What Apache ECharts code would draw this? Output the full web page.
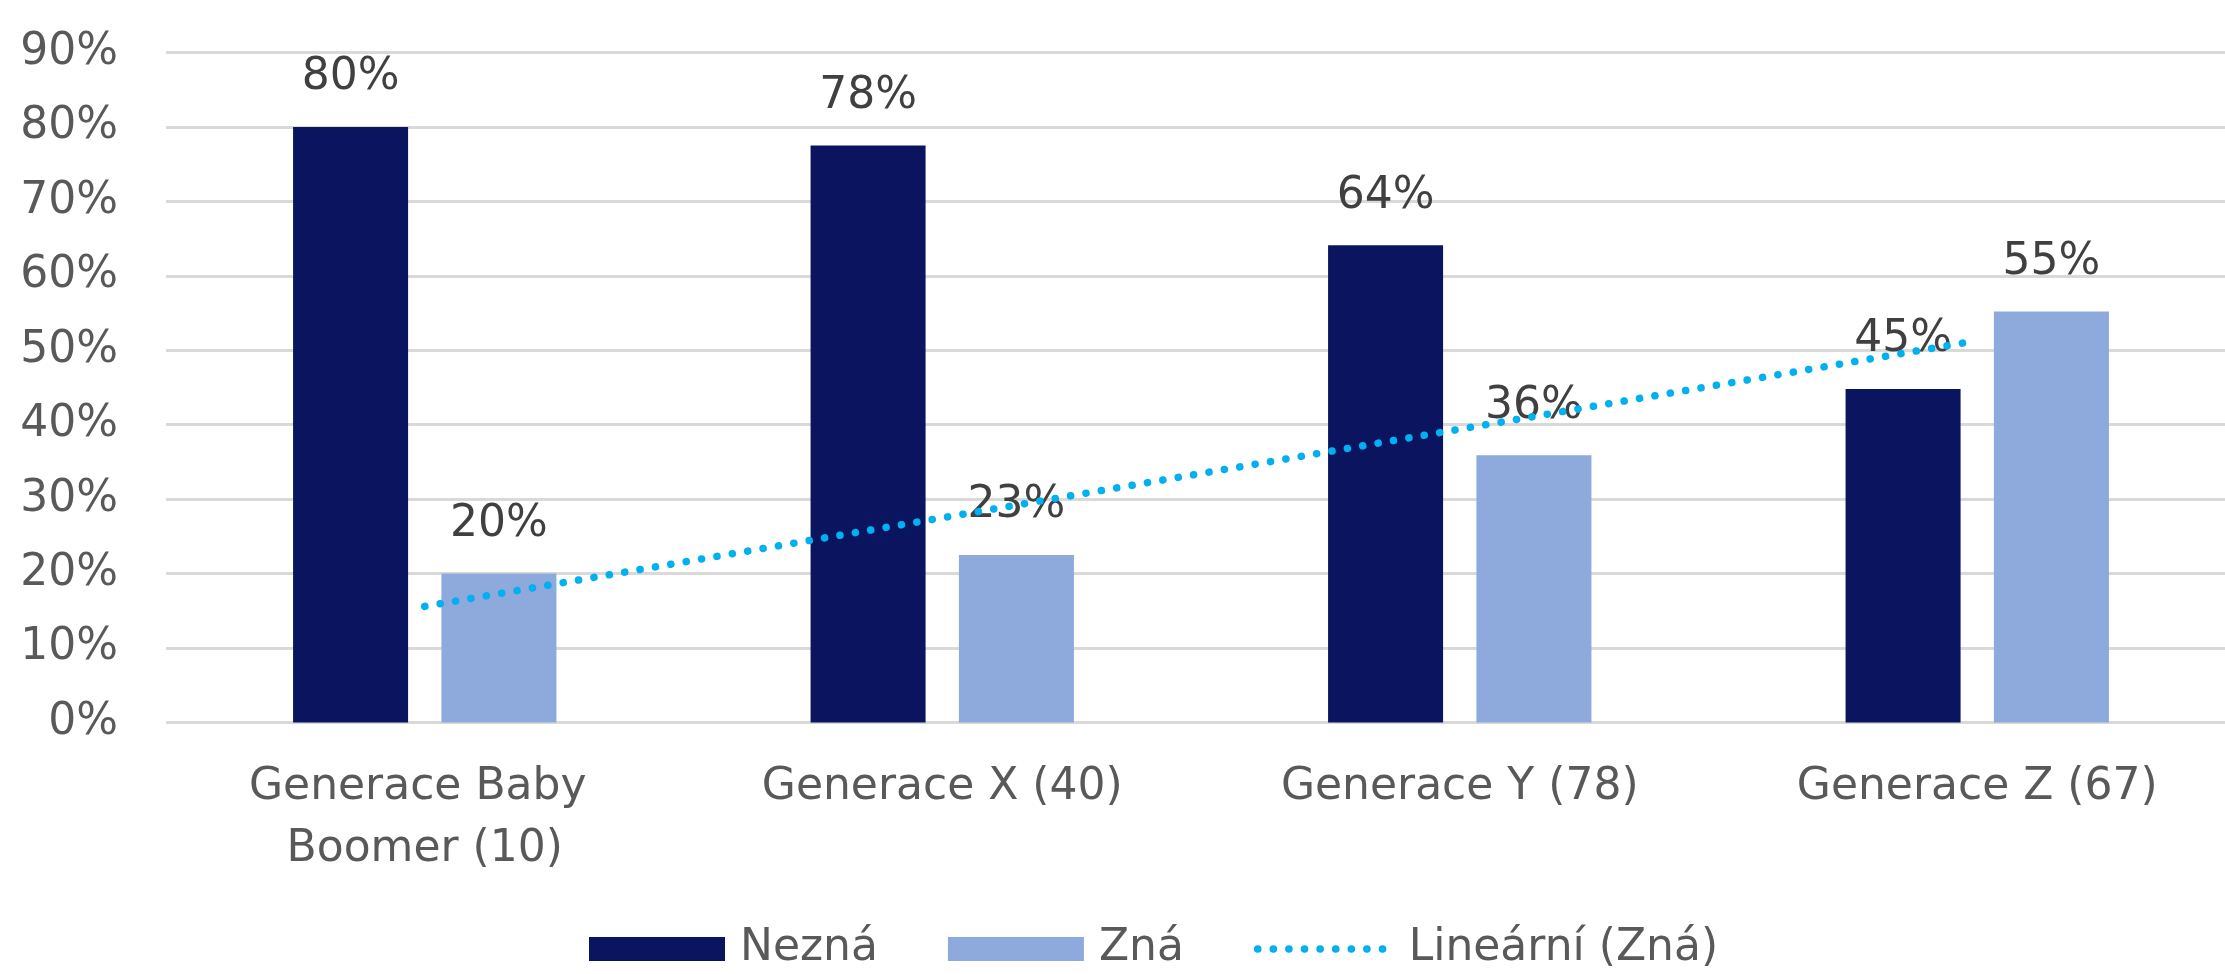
<!DOCTYPE html>
<html>
<head>
<meta charset="utf-8">
<script src="https://cdn.jsdelivr.net/npm/echarts@6/dist/echarts.min.js"></script>
<style>
html,body{margin:0;padding:0;background:#fff;}
#chart{width:2225px;height:974px;}
</style>
</head>
<body>
<div id="chart"></div>
<script>
const categories = ['Generace Baby Boomer (10)', 'Generace X (40)', 'Generace Y (78)', 'Generace Z (67)'];
const nezna = [80, 77.5, 64.1, 44.8];
const zna = [20, 22.5, 35.9, 55.2];
const trendZna = [15.6, 27.5, 39.4, 51.3];
const seriesNames = ['Nezná', 'Zná', 'Lineární (Zná)'];
const yTicks = [0, 10, 20, 30, 40, 50, 60, 70, 80, 90];

const FONT = 'DejaVu Sans';
const FS = 44;
const TREND_COLOR = '#00b0f0';
const trendLine = { color: TREND_COLOR, width: 7.5, type: [0.1, 15.5], cap: 'round' };
const chart = echarts.init(document.getElementById('chart'));
const labelFmt = p => Math.round(p.value) + '%';
chart.setOption({
  animation: false,
  backgroundColor: '#ffffff',
  textStyle: { fontFamily: FONT },
  grid: { left: 166, width: 2070, top: 52.5, bottom: 251.5, containLabel: false, outerBoundsMode: 'none' },
  legend: {
    left: 584, top: 922,
    itemWidth: 136, itemHeight: 24, itemGap: 70,
    textStyle: { fontFamily: FONT, fontSize: FS, color: '#595959', padding: [0, 0, 0, 10] },
    data: [
      { name: seriesNames[0], icon: 'rect' },
      { name: seriesNames[1], icon: 'rect' },
      { name: seriesNames[2], itemStyle: { opacity: 0 }, lineStyle: trendLine }
    ]
  },
  xAxis: {
    type: 'category',
    data: categories,
    axisLine: { show: false },
    axisTick: { show: false },
    axisLabel: {
      fontFamily: FONT, fontSize: FS, color: '#595959', margin: 34,
      lineHeight: 62, width: 420, overflow: 'break', interval: 0
    }
  },
  yAxis: {
    type: 'value',
    min: yTicks[0], max: yTicks[yTicks.length - 1], interval: 10,
    axisLine: { show: false },
    axisTick: { show: false },
    splitLine: { lineStyle: { color: '#d9d9d9', width: 3 } },
    axisLabel: { fontFamily: FONT, fontSize: FS, color: '#595959', margin: 48, formatter: '{value}%' }
  },
  series: [
    {
      name: seriesNames[0], type: 'bar', data: nezna,
      barWidth: 115, barGap: '29%',
      itemStyle: { color: '#0a145f' },
      label: { show: true, position: 'top', distance: 27, fontFamily: FONT, fontSize: FS, color: '#404040', formatter: labelFmt }
    },
    {
      name: seriesNames[1], type: 'bar', data: zna,
      barWidth: 115, barGap: '29%',
      itemStyle: { color: '#8ea9db' },
      label: { show: true, position: 'top', distance: 27, fontFamily: FONT, fontSize: FS, color: '#404040', formatter: labelFmt }
    },
    {
      name: seriesNames[2], type: 'line', data: trendZna,
      symbol: 'none', showSymbol: false, z: 5,
      itemStyle: { color: TREND_COLOR },
      lineStyle: trendLine
    }
  ]
});
</script>
</body>
</html>
